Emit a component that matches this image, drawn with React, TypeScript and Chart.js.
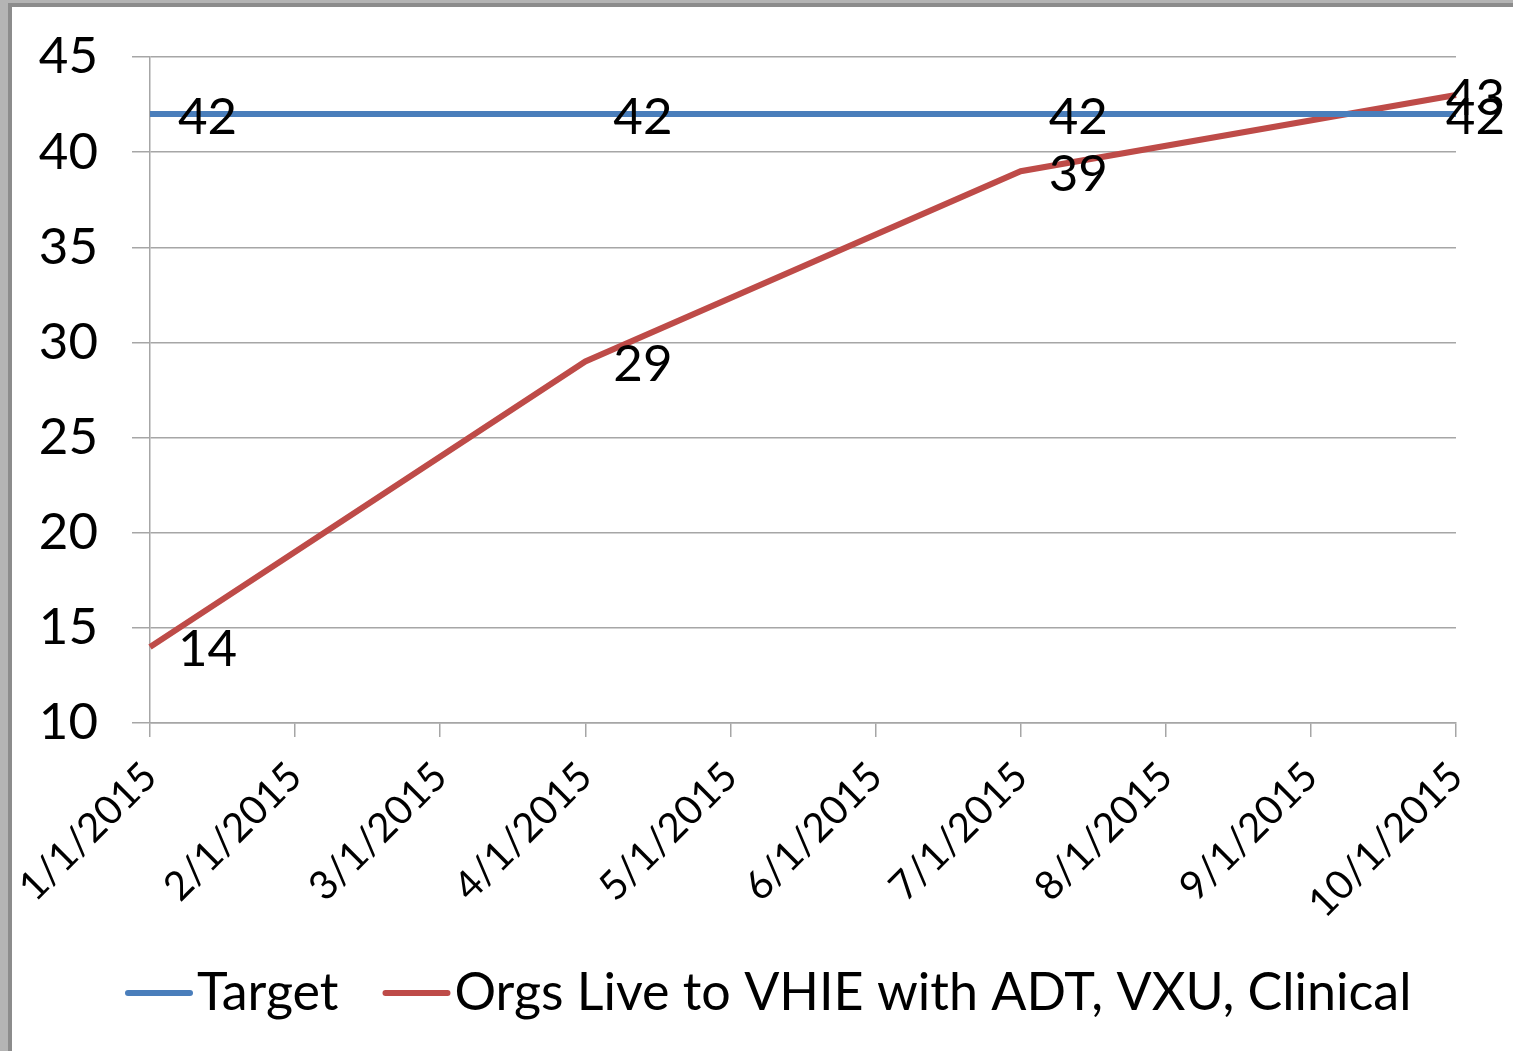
import React, { useEffect, useRef } from "react";
import { Chart, registerables } from "chart.js";

Chart.register(...registerables);

const categories = [
  "1/1/2015", "2/1/2015", "3/1/2015", "4/1/2015", "5/1/2015",
  "6/1/2015", "7/1/2015", "8/1/2015", "9/1/2015", "10/1/2015",
];
const targetValues: (number | null)[] = [42, null, null, 42, null, null, 42, null, null, 42];
const orgsValues: (number | null)[] = [14, null, null, 29, null, null, 39, null, null, 43];
const seriesNames = ["Target", "Orgs Live to VHIE with ADT, VXU, Clinical"];
const seriesColors = ["#4a7ebb", "#be4b48"];
const yMin = 10;
const yMax = 45;
const yStep = 5;

const FONT = "Lato, 'Open Sans', sans-serif";
const TICK_FONT_SIZE = 51;
const XTICK_FONT_SIZE = 40;
const LABEL_FONT_SIZE = 51;
const LEGEND_FONT_SIZE = 52;

const labelPlugin = {
  id: "pointLabels",
  afterDatasetsDraw(chart: any) {
    const ctx = chart.ctx;
    ctx.save();
    ctx.font = `${LABEL_FONT_SIZE}px ${FONT}`;
    ctx.fillStyle = "#000";
    ctx.textBaseline = "middle";
    ctx.textAlign = "left";
    chart.data.datasets.forEach((ds: any, di: number) => {
      const meta = chart.getDatasetMeta(di);
      meta.data.forEach((pt: any, i: number) => {
        const v = ds.data[i];
        if (v === null || v === undefined) return;
        const txt = String(v);
        const w = ctx.measureText(txt).width;
        let x = pt.x + 28;
        if (x + w > chart.width - 8) x = chart.width - 8 - w;
        ctx.fillText(txt, x, pt.y + 3);
      });
    });
    ctx.restore();
  },
};

const legendPlugin = {
  id: "customLegend",
  afterDraw(chart: any) {
    const ctx = chart.ctx;
    ctx.save();
    ctx.font = `${LEGEND_FONT_SIZE}px ${FONT}`;
    ctx.textBaseline = "middle";
    ctx.textAlign = "left";
    const y = 993;
    const lineLen = 68;
    const gapAfterLine = 4;
    const gapBetween = 44;
    const items = chart.data.datasets.map((ds: any) => ({
      label: ds.label,
      color: ds.borderColor,
      w: ctx.measureText(ds.label).width,
    }));
    let x = 125;
    items.forEach((it: any) => {
      ctx.strokeStyle = it.color;
      ctx.lineWidth = 6;
      ctx.lineCap = "round";
      ctx.beginPath();
      ctx.moveTo(x + 3, y);
      ctx.lineTo(x + lineLen - 3, y);
      ctx.stroke();
      x += lineLen + gapAfterLine;
      ctx.fillStyle = "#000";
      ctx.fillText(it.label, x, y);
      x += it.w + gapBetween;
    });
    ctx.restore();
  },
};

export default function App() {
  const canvasRef = useRef<HTMLCanvasElement | null>(null);

  useEffect(() => {
    if (!canvasRef.current) return;
    const chart = new Chart(canvasRef.current, {
      type: "line",
      data: {
        labels: categories,
        datasets: [
          {
            label: seriesNames[0],
            data: targetValues,
            borderColor: seriesColors[0],
            backgroundColor: seriesColors[0],
            borderWidth: 6,
            pointRadius: 0,
            spanGaps: true,
            tension: 0,
          },
          {
            label: seriesNames[1],
            data: orgsValues,
            borderColor: seriesColors[1],
            backgroundColor: seriesColors[1],
            borderWidth: 6,
            pointRadius: 0,
            spanGaps: true,
            tension: 0,
          },
        ],
      },
      options: {
        animation: false,
        responsive: false,
        maintainAspectRatio: false,
        layout: { padding: { top: 57, right: 57, bottom: 128, left: 0 } },
        plugins: {
          legend: { display: false },
          tooltip: { enabled: false },
        },
        scales: {
          x: {
            type: "category",
            offset: false,
            grid: {
              display: true,
              drawOnChartArea: false,
              drawTicks: true,
              tickLength: 14,
              color: "#a6a6a6",
              lineWidth: 1.5,
            },
            border: { display: true, color: "#a6a6a6", width: 1.5 },
            ticks: {
              autoSkip: false,
              maxRotation: 45,
              minRotation: 45,
              padding: 16,
              color: "#000",
              font: { family: FONT, size: XTICK_FONT_SIZE },
            },
            afterFit: (scale: any) => {
              scale.height = 200;
              scale.paddingLeft = 0;
              scale.paddingRight = 0;
              scale.paddingTop = 0;
              scale.paddingBottom = 0;
            },
          },
          y: {
            min: yMin,
            max: yMax,
            grid: {
              display: true,
              drawTicks: true,
              tickLength: 18,
              color: "#a6a6a6",
              lineWidth: 1.5,
            },
            border: { display: true, color: "#a6a6a6", width: 1.5 },
            ticks: {
              stepSize: yStep,
              padding: 34,
              color: "#000",
              font: { family: FONT, size: TICK_FONT_SIZE },
            },
            afterFit: (scale: any) => {
              scale.width = 150;
              scale.paddingLeft = 0;
              scale.paddingRight = 0;
              scale.paddingTop = 0;
              scale.paddingBottom = 0;
            },
          },
        },
      },
      plugins: [labelPlugin, legendPlugin],
    });
    return () => chart.destroy();
  }, []);

  return (
    <div style={{ position: "absolute", left: 0, top: 0, width: 1513, height: 1051, background: "#fff", overflow: "hidden" }}>
      <canvas ref={canvasRef} width={1513} height={1051} style={{ position: "absolute", left: 0, top: 0 }} />
      <div style={{ position: "absolute", left: 0, top: 0, width: 8, height: 1051, background: "#b4b4b4" }} />
      <div style={{ position: "absolute", left: 8, top: 3, width: 4, height: 1048, background: "#8c8c8c" }} />
      <div style={{ position: "absolute", left: 0, top: 0, width: 1513, height: 3, background: "#b4b4b4" }} />
      <div style={{ position: "absolute", left: 8, top: 3, width: 1505, height: 4, background: "#8c8c8c" }} />
    </div>
  );
}
